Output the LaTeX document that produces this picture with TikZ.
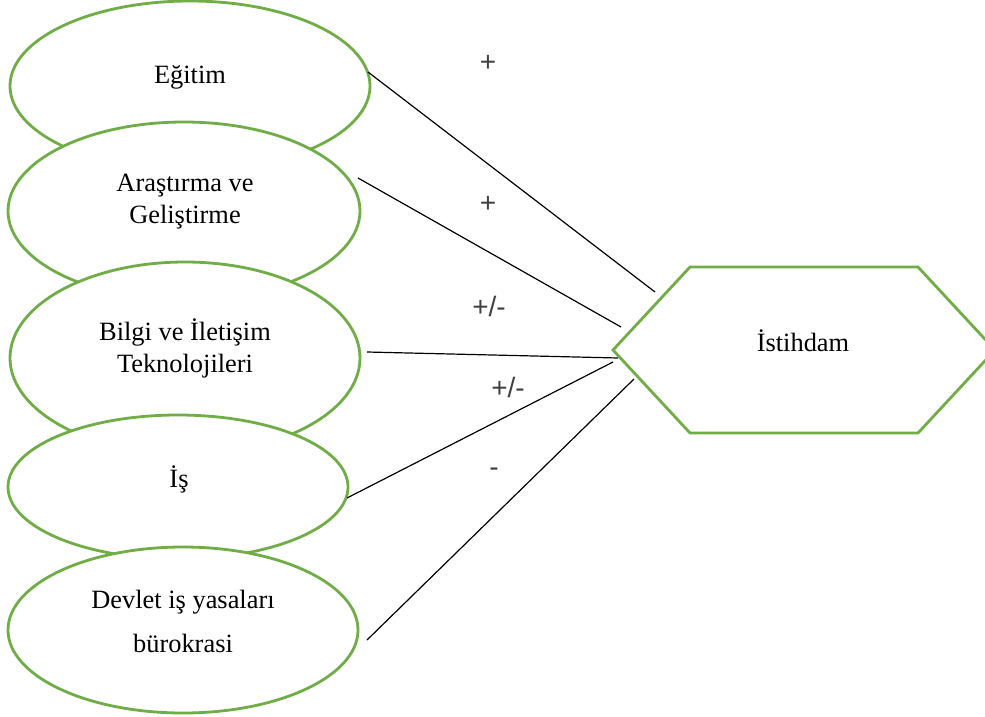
\documentclass[tikz,border=0pt]{standalone}
\usepackage{fontspec}
\setmainfont{Liberation Serif}
\newfontfamily\labelfont{Liberation Sans}
\usetikzlibrary{shapes.geometric}
\definecolor{ovalgreen}{RGB}{112,173,71}
\definecolor{signgray}{RGB}{64,64,64}
\tikzset{
  oval/.style={ellipse, draw=ovalgreen, line width=2.8pt, fill=white, inner sep=0pt},
  ovaltext/.style={align=center, font=\fontsize{26.4}{32}\selectfont, inner sep=0pt},
  link/.style={draw=black, line width=1.2pt},
  sign/.style={font=\labelfont\fontsize{28}{30}\selectfont, text=signgray, inner sep=0pt, text height=0.72em, text depth=0pt}
}
\begin{document}
\begin{tikzpicture}[x=1pt,y=-1pt]
\useasboundingbox (0,0) rectangle (985,717);
\clip (0,0) rectangle (985,717);
\fill[white] (0,0) rectangle (985,717);
% ellipses
\node[oval, minimum width=360pt, minimum height=170pt] (e1) at (190,86) {};
\node[oval, minimum width=352pt, minimum height=178pt] (e2) at (184,211) {};
\node[oval, minimum width=350pt, minimum height=192pt] (e3) at (185,358) {};
\node[oval, minimum width=340pt, minimum height=144pt] (e4) at (178,487) {};
\node[oval, minimum width=350pt, minimum height=166pt] (e5) at (183,630) {};
% ellipse texts
\node[ovaltext] (t1) at (190,77) {Eğitim};
\node[ovaltext] (t2) at (185,202) {Araştırma ve\\Geliştirme};
\node[ovaltext] (t3) at (185,348) {Bilgi ve İletişim\\Teknolojileri};
\node[ovaltext] (t4) at (179,479) {İş};
\node[ovaltext, font=\fontsize{26.4}{44}\selectfont] (t5) at (183,621) {Devlet iş yasaları\\bürokrasi};
% hexagon
\coordinate (hL) at (613,350);
\coordinate (hTL) at (690,267);
\coordinate (hTR) at (918,267);
\coordinate (hR) at (995,350);
\coordinate (hBR) at (918,433);
\coordinate (hBL) at (690,433);
\draw[draw=ovalgreen, line width=2.8pt, fill=white, line join=miter] (hL) -- (hTL) -- (hTR) -- (hR) -- (hBR) -- (hBL) -- cycle;
\node[ovaltext] (hx) at (803,341) {İstihdam};
% connector ends
\coordinate (s1) at (368,72);
\coordinate (f1) at (655,292);
\coordinate (s2) at (358,178);
\coordinate (f2) at (621,327);
\coordinate (s3) at (367,352);
\coordinate (f3) at (618,358);
\coordinate (s4) at (347,498);
\coordinate (f4) at (613,362);
\coordinate (s5) at (367,640);
\coordinate (f5) at (634,379);
\draw[link] (s1) -- (f1);
\draw[link] (s2) -- (f2);
\draw[link] (s3) -- (f3);
\draw[link] (s4) -- (f4);
\draw[link] (s5) -- (f5);
% signs
\node[sign] (p1) at (488,68) {+};
\node[sign] (p2) at (488,209) {+};
\node[sign] (p3) at (489,313) {+/-};
\node[sign] (p4) at (508,394) {+/-};
\node[sign] (p5) at (494,473) {-};
\end{tikzpicture}
\end{document}
